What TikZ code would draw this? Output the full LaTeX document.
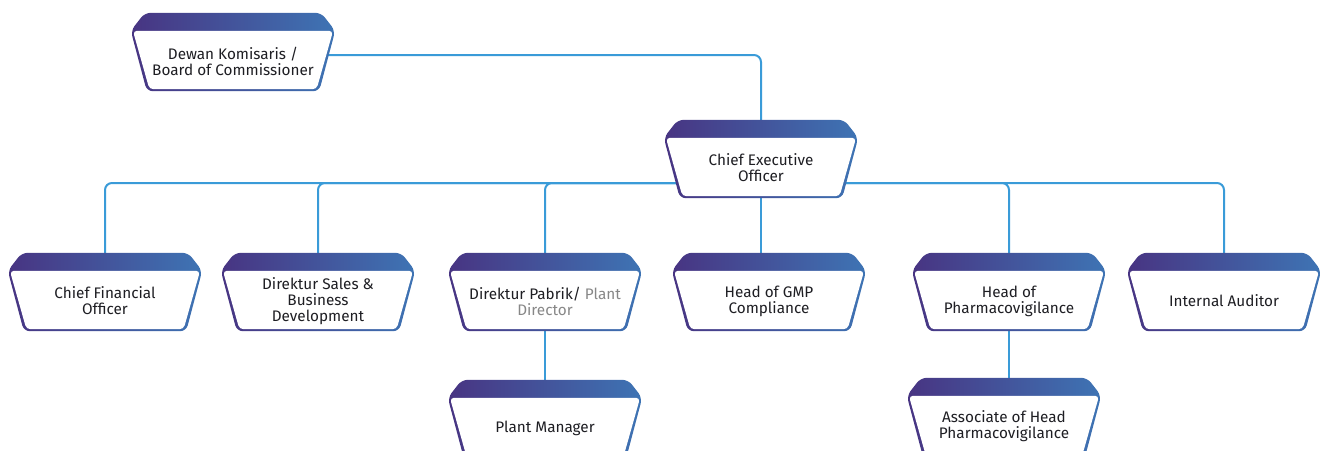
\documentclass[tikz,border=0pt]{standalone}
\usepackage{fontspec}
\setmainfont{Fira Sans}
\usetikzlibrary{calc}
\definecolor{hdleft}{RGB}{72,52,130}
\definecolor{hdright}{RGB}{62,116,180}
\definecolor{linkblue}{RGB}{58,155,216}
\definecolor{txtdark}{RGB}{30,30,35}
\definecolor{txtgrey}{RGB}{135,135,135}
\pgfdeclarelayer{lines}
\pgfdeclarelayer{frames}
\pgfsetlayers{lines,frames,main}

% header band + white body behind a node
\newcommand{\orgframe}[1]{%
  \begin{pgfonlayer}{frames}
  \shade[left color=hdleft,right color=hdright,rounded corners=6pt]
    ($(#1.north west)+(14,18)$) -- ($(#1.north east)+(-14,18)$) -- (#1.north east)
    -- ($(#1.south east)+(-16,0)$) -- ($(#1.south west)+(16,0)$) -- (#1.north west) -- cycle;
  \fill[white,rounded corners=4pt]
    ($(#1.north west)+(2.1,0)$) -- ($(#1.north east)+(-2.1,0)$)
    -- ($(#1.south east)+(-18.6,2)$) -- ($(#1.south west)+(18.6,2)$) -- cycle;
  \end{pgfonlayer}
  \coordinate (#1-top) at ($(#1.north)+(0,18)$);
}

\begin{document}
\begin{tikzpicture}
  [x=1pt,y=1pt,
   every node/.style={minimum width=194pt,minimum height=60pt,inner sep=0pt,
     align=center,text=txtdark,font=\fontsize{15.3}{16}\selectfont},
   link/.style={draw=linkblue,line width=2pt,rounded corners=7pt}]
  \useasboundingbox (0,0) rectangle (1325,-450);

  \node[minimum width=204pt] (board) at (233,-61) {Dewan Komisaris /\\Board of Commissioner};
  \node (ceo) at (761,-168) {Chief Executive\\Officer};
  \node (cfo) at (105,-301) {Chief Financial\\Officer};
  \node (sales) at (318,-301) {Direktur Sales \&\\Business\\Development};
  \node (pabrik) at (545,-301) {Direktur Pabrik/ \textcolor{txtgrey}{Plant}\\\textcolor{txtgrey}{Director}};
  \node (gmp) at (769,-301) {Head of GMP\\Compliance};
  \node (pharma) at (1009,-301) {Head of\\Pharmacovigilance};
  \node (auditor) at (1224,-301) {Internal Auditor};
  \node (plant) at (545,-428) {Plant Manager};
  \node (assoc) at (1004,-426) {Associate of Head\\Pharmacovigilance};

  \foreach \n in {board,ceo,cfo,sales,pabrik,gmp,pharma,auditor,plant,assoc}
    {\orgframe{\n}}

  \begin{pgfonlayer}{lines}
  \coordinate (bus) at ($(ceo.center)+(0,-15)$);
  \path[link] ($(board.center)+(0,6)$) -| (ceo-top);
  \foreach \n in {cfo,sales,pabrik,pharma,auditor}
    \path[link] (bus) -| (\n-top);
  \path[link] (ceo.center) -- (ceo.center |- gmp-top);
  \path[link] (pabrik.center) -- (plant-top);
  \path[link] (pharma.center) -- (pharma.center |- assoc-top);
  \end{pgfonlayer}

\end{tikzpicture}
\end{document}
